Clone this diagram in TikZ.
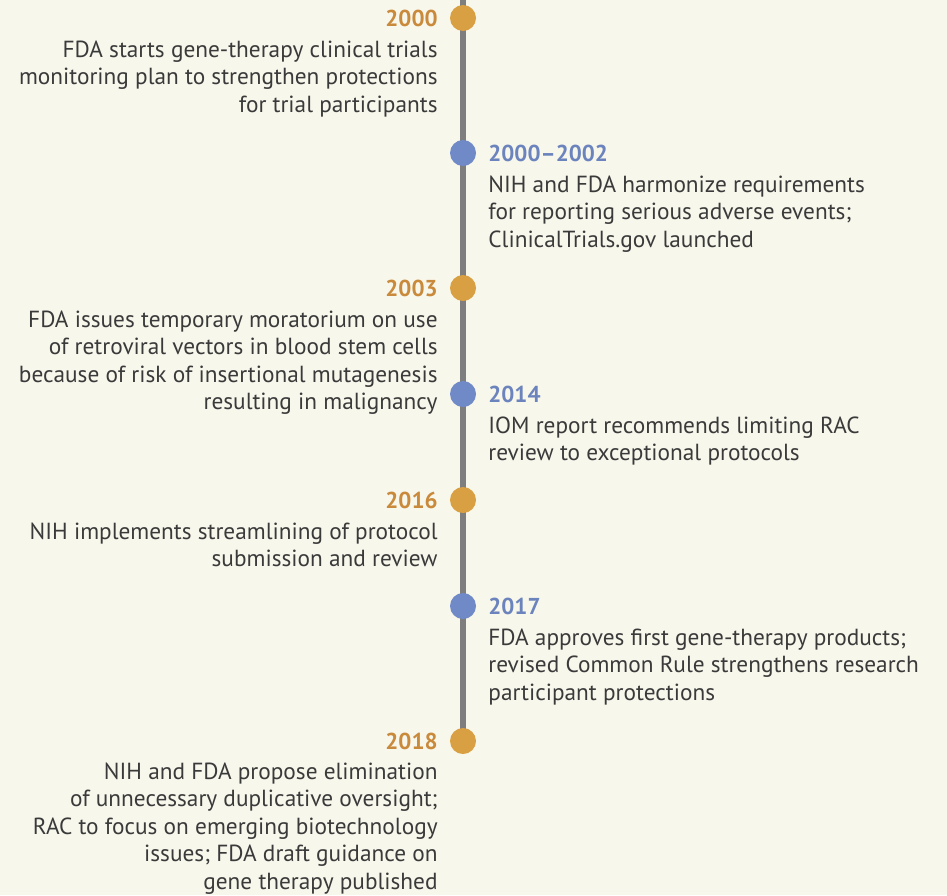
\documentclass[tikz,border=0pt]{standalone}
\usepackage{fontspec}
\setmainfont{PT Sans}
\usetikzlibrary{positioning}
\definecolor{paper}{HTML}{F8F7EC}
\definecolor{gold}{HTML}{D9A043}
\definecolor{goldtext}{HTML}{C98A3C}
\definecolor{slate}{HTML}{6F8AC6}
\definecolor{slatetext}{HTML}{6C84BD}
\definecolor{ink}{HTML}{3A3A3A}
\definecolor{rail}{HTML}{7E7E7E}
\begin{document}
\begin{tikzpicture}[x=1pt, y=-1pt,
    dot/.style={circle, fill=#1, minimum size=26pt, inner sep=0pt},
    yr/.style={font=\fontsize{23}{27.5}\selectfont\bfseries, text=#1, inner sep=0pt},
    txt/.style={font=\fontsize{23.3}{27.5}\selectfont, text=ink, inner sep=0pt, align=#1}]
    \fill[paper](0,0)rectangle(947,895);
    \useasboundingbox(0,0)rectangle(947,895);
    % the rail
    \coordinate (top) at (463,0);
    \coordinate (bot) at (463,741);
    \draw[rail, line width=6pt](top)--(bot);
    % events, left side gold, right side blue
    \node[dot=gold] (d2000) at (463,18) {};
    \node[yr=goldtext, left=12pt of d2000] (y2000) {2000};
    \node[txt=right, below=14pt of y2000.south east, anchor=north east] (t2000)
        {FDA starts gene-therapy clinical trials\\monitoring plan to strengthen protections\\for trial participants};

    \node[dot=slate] (d2002) at (463,153) {};
    \node[yr=slatetext, right=12pt of d2002] (y2002) {2000--2002};
    \node[txt=left, below=14pt of y2002.south west, anchor=north west] (t2002)
        {NIH and FDA harmonize requirements\\for reporting serious adverse events;\\ClinicalTrials.gov launched};

    \node[dot=gold] (d2003) at (463,288) {};
    \node[yr=goldtext, left=12pt of d2003] (y2003) {2003};
    \node[txt=right, below=14pt of y2003.south east, anchor=north east] (t2003)
        {FDA issues temporary moratorium on use\\of retroviral vectors in blood stem cells\\because of risk of insertional mutagenesis\\resulting in malignancy};

    \node[dot=slate] (d2014) at (463,394) {};
    \node[yr=slatetext, right=12pt of d2014] (y2014) {2014};
    \node[txt=left, below=14pt of y2014.south west, anchor=north west] (t2014)
        {IOM report recommends limiting RAC\\review to exceptional protocols};

    \node[dot=gold] (d2016) at (463,500) {};
    \node[yr=goldtext, left=12pt of d2016] (y2016) {2016};
    \node[txt=right, below=14pt of y2016.south east, anchor=north east] (t2016)
        {NIH implements streamlining of protocol\\submission and review};

    \node[dot=slate] (d2017) at (463,606) {};
    \node[yr=slatetext, right=12pt of d2017] (y2017) {2017};
    \node[txt=left, below=14pt of y2017.south west, anchor=north west] (t2017)
        {FDA approves first gene-therapy products;\\revised Common Rule strengthens research\\participant protections};

    \node[dot=gold] (d2018) at (463,741) {};
    \node[yr=goldtext, left=12pt of d2018] (y2018) {2018};
    \node[txt=right, below=13pt of y2018.south east, anchor=north east] (t2018)
        {NIH and FDA propose elimination\\of unnecessary duplicative oversight;\\RAC to focus on emerging biotechnology\\issues; FDA draft guidance on\\gene therapy published};
\end{tikzpicture}
\end{document}
